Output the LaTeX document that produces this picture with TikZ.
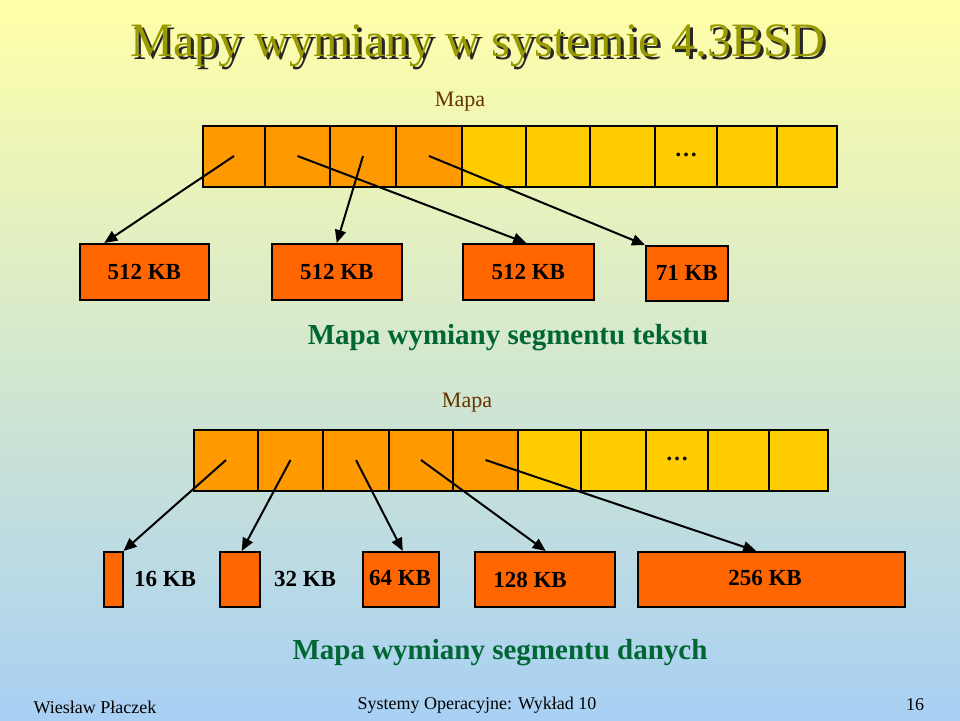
\documentclass[tikz,border=0pt]{standalone}
\usepackage{fontspec}
\setmainfont{Liberation Serif}
\usetikzlibrary{arrows.meta, positioning}
\definecolor{mapdark}{HTML}{FF9900}
\definecolor{maplight}{HTML}{FFCC00}
\definecolor{blockcol}{HTML}{FF6600}
\definecolor{captioncol}{HTML}{006633}
\definecolor{mapacol}{HTML}{663300}
\definecolor{titlecol}{HTML}{999900}
\definecolor{bgtop}{HTML}{FFFFA8}
\definecolor{bgbottom}{HTML}{A8D0F4}

\begin{document}
\begin{tikzpicture}[x=1pt, y=-1pt,
  every node/.style={font=\fontsize{22}{24}\selectfont},
  cell/.style={draw, line width=1.5pt, inner sep=0pt},
  block/.style={draw, line width=1.5pt, fill=blockcol, inner sep=0pt, anchor=north west},
  lbl/.style={font=\bfseries\fontsize{23}{25}\selectfont},
  ptr/.style={-{Triangle[length=13pt, width=11pt]}, line width=2pt}]
\shade[top color=bgtop, bottom color=bgbottom] (0,0) rectangle (960,720);
\useasboundingbox (0,0) rectangle (960,720);

% title
\node (shadow) at (481,49) [text=black!85, font=\fontsize{48}{52}\selectfont] {Mapy wymiany w systemie 4.3BSD};
\node (title) at (478,46) [text=titlecol, font=\fontsize{48}{52}\selectfont] {Mapy wymiany w systemie 4.3BSD};

% text segment map
\node (mapa1) at (460,102) [text=mapacol] {Mapa};
\foreach \i/\a/\b in {1/203/265, 2/265/330, 3/330/396, 4/396/462} {
  \draw[cell, fill=mapdark] (\a,126) rectangle (\b,187);
  \coordinate (t\i) at ({(\a+\b)/2},156);
}
\foreach \a/\b in {462/526, 526/590, 590/655, 655/717, 717/777, 777/837}
  \draw[cell, fill=maplight] (\a,126) rectangle (\b,187);
\node (dots1) at (686,155) [lbl] {\ldots};

\node (tb1) [block, minimum width=129pt, minimum height=56pt] at (79,243) {};
\node at (tb1.center) [lbl] {512 KB};
\node (tb2) [block, minimum width=130pt, minimum height=56pt] at (271,243) {};
\node at (tb2.center) [lbl] {512 KB};
\node (tb3) [block, minimum width=131pt, minimum height=56pt] at (462,243) {};
\node at (tb3.center) [lbl] {512 KB};
\node (tb4) [block, minimum width=82pt, minimum height=55pt] at (645,245) {};
\node at (tb4.center) [lbl] {71 KB};

\draw[ptr] (t1) -- ([xshift=-40pt]tb1.north);
\draw[ptr] (t3) -- (tb2.north);
\draw[ptr] (t2) -- ([xshift=-2pt]tb3.north);
\draw[ptr] (t4) -- (tb4.north west);

\node (cap1) at (508,338) [text=captioncol, font=\bfseries\fontsize{29}{31}\selectfont] {Mapa wymiany segmentu tekstu};

% data segment map
\node (mapa2) at (467,403) [text=mapacol] {Mapa};
\foreach \i/\a/\b in {1/194/258, 2/258/323, 3/323/389, 4/389/453, 5/453/518} {
  \draw[cell, fill=mapdark] (\a,430) rectangle (\b,491);
  \coordinate (d\i) at ({(\a+\b)/2},460);
}
\foreach \a/\b in {518/581, 581/646, 646/708, 708/769, 769/828}
  \draw[cell, fill=maplight] (\a,430) rectangle (\b,491);
\node (dots2) at (677,459) [lbl] {\ldots};

\node (db1) [block, minimum width=19pt, minimum height=55pt] at (103,551) {};
\node (db2) [block, minimum width=40pt, minimum height=55pt] at (219,551) {};
\node (db3) [block, minimum width=76pt, minimum height=55pt] at (362,551) {};
\node (db4) [block, minimum width=140pt, minimum height=55pt] at (474,551) {};
\node (db5) [block, minimum width=267pt, minimum height=55pt] at (637,551) {};
\node (l16) at (165,579) [lbl] {16 KB};
\node (l32) at (305,579) [lbl] {32 KB};
\node (l64) at (400,578) [lbl] {64 KB};
\node (l128) at (530,580) [lbl] {128 KB};
\node (l256) at (765,578) [lbl] {256 KB};

\draw[ptr] (d1) -- (db1.north east);
\draw[ptr] (d2) -- ([xshift=2pt]db2.north);
\draw[ptr] (d3) -- ([xshift=2pt]db3.north);
\draw[ptr] (d4) -- ([xshift=1pt]db4.north);
\draw[ptr] (d5) -- ([xshift=-15pt]db5.north);

\node (cap2) at (500,653) [text=captioncol, font=\bfseries\fontsize{29}{31}\selectfont] {Mapa wymiany segmentu danych};

% footer
\node (author) at (95,707) [font=\fontsize{18}{20}\selectfont] {Wiesław Płaczek};
\node (course) at (477,705) [font=\fontsize{18}{20}\selectfont] {Systemy Operacyjne: Wykład 10};
\node (page) at (915,705) [font=\fontsize{18}{20}\selectfont] {16};
\end{tikzpicture}
\end{document}
